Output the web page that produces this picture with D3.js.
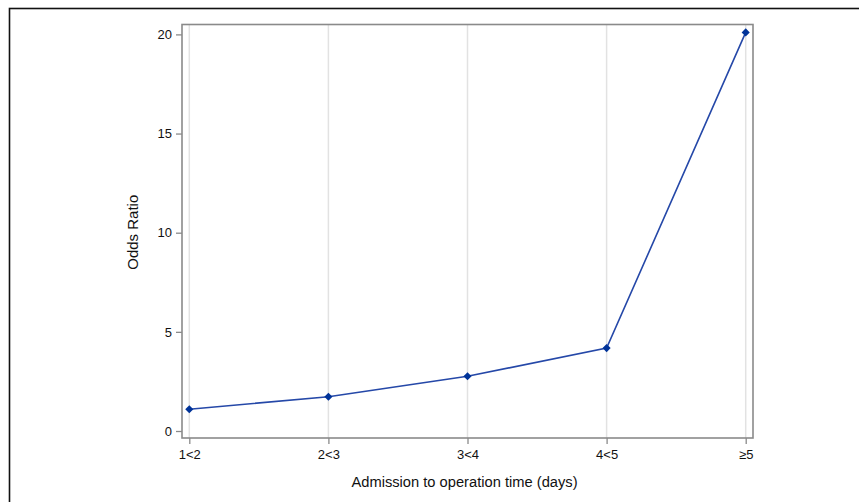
<!DOCTYPE html>
<meta charset="utf-8">
<head>
  <script src="https://d3js.org/d3.v7.min.js"></script>
  <style>
    body { margin: 0; background: #fff; font-family: 'Liberation Sans', Arial, sans-serif; }
  </style>
</head>
<body>
<div id="chart"></div>
<script>
  const categories = ["1<2", "2<3", "3<4", "4<5", "\u22655"]
  const oddsRatio = [1.1, 1.73, 2.76, 4.18, 20.1]
  const yTicks = [0, 5, 10, 15, 20]

  const W = 859, H = 502
  // plot frame
  const pLeft = 182, pRight = 753, pTop = 24.5, pBottom = 438

  const svg = d3.select("#chart").append("svg")
    .attr("width", W).attr("height", H)

  // outer border
  svg.append("rect")
    .attr("x", 9.5).attr("y", 8.5)
    .attr("width", W).attr("height", H)
    .attr("fill", "none")
    .attr("stroke", "#111").attr("stroke-width", 1.6)

  var x = d3.scalePoint()
    .domain(categories)
    .range([189.3, 745.7])

  var y = d3.scaleLinear()
    .domain([0, 20])
    .range([431, 34.4])

  // vertical grid lines
  svg.append("g").selectAll("line")
    .data(categories)
    .enter().append("line")
    .attr("x1", d => x(d)).attr("x2", d => x(d))
    .attr("y1", pTop).attr("y2", pBottom)
    .attr("stroke", "#e2e2e2").attr("stroke-width", 1.5)

  // frame
  svg.append("rect")
    .attr("x", pLeft).attr("y", pTop)
    .attr("width", pRight - pLeft).attr("height", pBottom - pTop)
    .attr("fill", "none")
    .attr("stroke", "#8a8a8a").attr("stroke-width", 1.6)

  var yAxis = svg.append("g")
    .attr("transform", "translate(" + pLeft + ",0)")
    .call(d3.axisLeft(y).tickValues(yTicks).tickSize(6).tickPadding(4))
  yAxis.select(".domain").remove()

  var xAxis = svg.append("g")
    .attr("transform", "translate(0," + pBottom + ")")
    .call(d3.axisBottom(x).tickSize(6).tickPadding(6))
  xAxis.select(".domain").remove()

  svg.selectAll(".tick line").attr("stroke", "#8a8a8a").attr("stroke-width", 1.3)
  svg.selectAll(".tick text")
    .attr("fill", "#111")
    .style("font-family", "'Liberation Sans', Arial, sans-serif")
    .style("font-size", "13px")

  // axis labels
  svg.append("text")
    .attr("x", (pLeft + pRight) / 2 - 3).attr("y", 487)
    .attr("text-anchor", "middle")
    .style("font-size", "14.7px").attr("fill", "#111")
    .text("Admission to operation time (days)")

  svg.append("text")
    .attr("transform", "translate(138," + ((pTop + pBottom) / 2 + 1) + ") rotate(-90)")
    .attr("text-anchor", "middle")
    .style("font-size", "15px").attr("fill", "#111")
    .text("Odds Ratio")

  // line
  var line = d3.line()
    .x((d, i) => x(categories[i]))
    .y(d => y(d))

  svg.append("path")
    .datum(oddsRatio)
    .attr("d", line)
    .attr("fill", "none")
    .attr("stroke", "#2548a8")
    .attr("stroke-width", 1.6)

  svg.append("g").selectAll("path")
    .data(oddsRatio)
    .enter().append("path")
    .attr("d", d3.symbol().type(d3.symbolDiamond2).size(42))
    .attr("transform", (d, i) => "translate(" + x(categories[i]) + "," + y(d) + ")")
    .attr("fill", "#003399")
</script>
</body>
